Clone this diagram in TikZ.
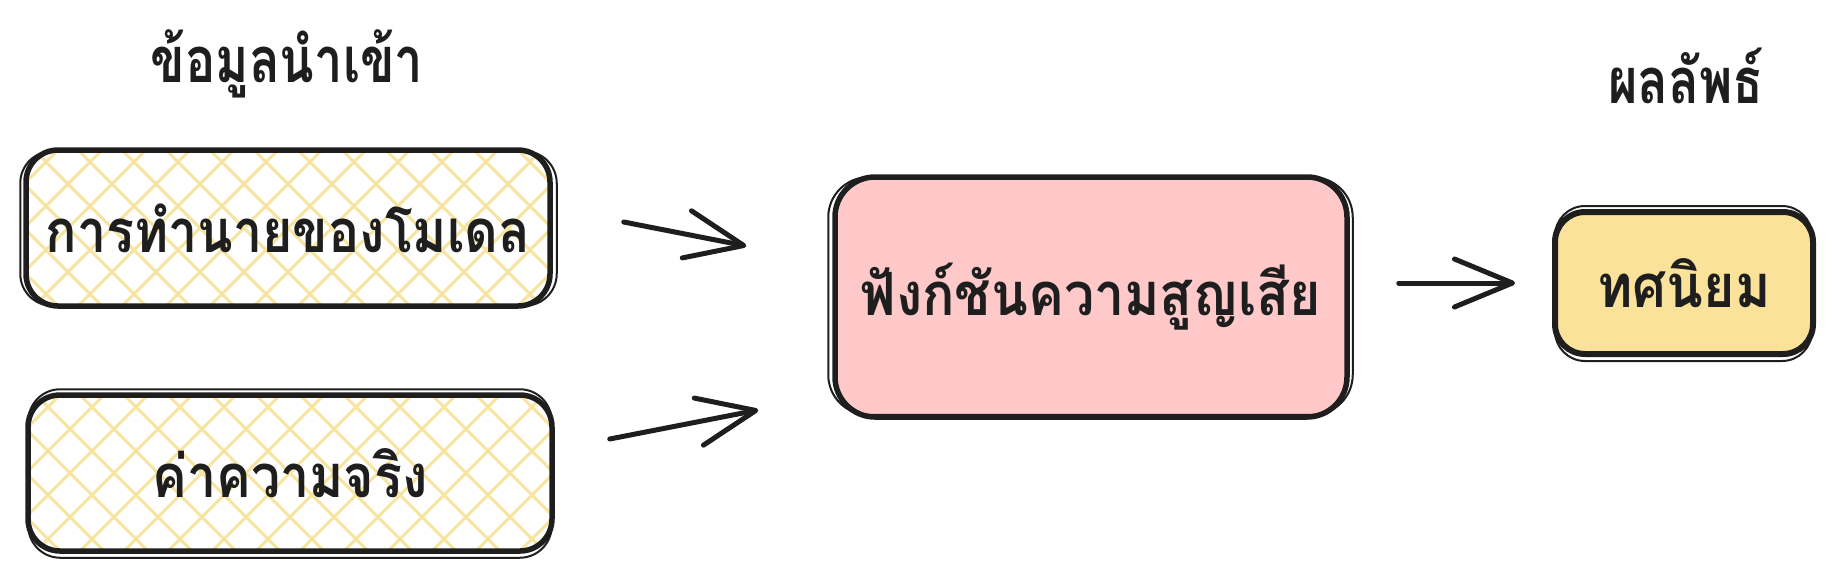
\documentclass[tikz,border=0pt]{standalone}
\usepackage{fontspec}
\usepackage{graphicx}
\newfontfamily\thaifont[Script=Thai]{Loma}
\usetikzlibrary{arrows.meta,calc}
\definecolor{pinkfill}{HTML}{FFC9C9}
\definecolor{yellowfill}{HTML}{FAE29A}
\definecolor{hatchcol}{HTML}{F6E4A0}
\definecolor{inkcol}{HTML}{1E1E1E}
\newcommand{\nar}[2][0.87]{\scalebox{#1}[1]{#2}}
\tikzset{
  hatchline/.style={draw=hatchcol, line width=0.3mm},
  inbox/.style={draw=inkcol, line width=0.55mm, rounded corners=3.2mm, minimum width=52.4mm, minimum height=15.6mm,
    inner xsep=0pt, font=\thaifont\bfseries\fontsize{17}{20}\selectfont, text=inkcol,
    path picture={
      \foreach \k in {-10,...,10}{
        \draw[hatchline] ([shift={(\k*44-160,-160)}]path picture bounding box.center) -- ++(320,320);
        \draw[hatchline] ([shift={(\k*44-160,160)}]path picture bounding box.center) -- ++(320,-320);
      }}},
  lossbox/.style={draw=inkcol, fill=pinkfill, line width=0.55mm, rounded corners=4mm, minimum width=51.2mm, minimum height=24mm,
    inner xsep=0pt, font=\thaifont\bfseries\fontsize{17}{20}\selectfont, text=inkcol},
  outbox/.style={draw=inkcol, fill=yellowfill, line width=0.6mm, rounded corners=3mm, minimum width=25.8mm, minimum height=14.2mm,
    inner xsep=0pt, font=\thaifont\bfseries\fontsize{17}{20}\selectfont, text=inkcol},
  sketch/.style={draw=inkcol, line width=0.2mm},
  titletext/.style={font=\thaifont\bfseries\fontsize{18}{22}\selectfont, text=inkcol},
  arr/.style={draw=inkcol, line width=0.5mm, line cap=round,
    -{Straight Barb[length=5.8mm, width=4.8mm, line cap=round, line join=round]}},
}
\begin{document}
\begin{tikzpicture}[x=0.1mm, y=-0.1mm]
\useasboundingbox (0,0) rectangle (1836,576);
\node[titletext] (tin) at (287,64) {\nar[0.8]{ข้อมูลนำเข้า}};
\node[titletext] (tout) at (1686,76) {\nar[0.8]{ผลลัพธ์}};
\node[inbox] (pred) at (288,228) {\nar{การทำนายของโมเดล}};
\node[inbox] (truth) at (290,473) {\nar{ค่าความจริง}};
\node[lossbox] (loss) at (1091,297) {\nar[0.9]{ฟังก์ชันความสูญเสีย}};
\node[outbox] (dec) at (1684,283) {\nar[0.9]{ทศนิยม}};
% second sketchy strokes
\draw[sketch, rounded corners=3.2mm] ([shift={(-3,4)}]pred.north west) rectangle ([shift={(4,-3)}]pred.south east);
\draw[sketch, rounded corners=3.2mm] ([shift={(3,-3)}]truth.north west) rectangle ([shift={(-3,4)}]truth.south east);
\draw[sketch, rounded corners=4mm] ([shift={(-4,3)}]loss.north west) rectangle ([shift={(3,-5)}]loss.south east);
\draw[sketch, rounded corners=3mm] ([shift={(3,-3)}]dec.north west) rectangle ([shift={(-4,4)}]dec.south east);
% arrow ends
\coordinate (a1s) at ($(pred.east)+(71,-6)$);
\coordinate (a1e) at ($(loss.west)+(-86,-51)$);
\coordinate (a2s) at ($(truth.east)+(55,-34)$);
\coordinate (a2e) at ($(loss.west)+(-74,113)$);
\coordinate (a3s) at ($(loss.east)+(49,-14)$);
\coordinate (a3e) at ($(dec.west)+(-37,0)$);
\draw[arr] (a1s) -- (a1e);
\draw[arr] (a2s) -- (a2e);
\draw[arr] (a3s) -- (a3e);
\end{tikzpicture}
\end{document}
